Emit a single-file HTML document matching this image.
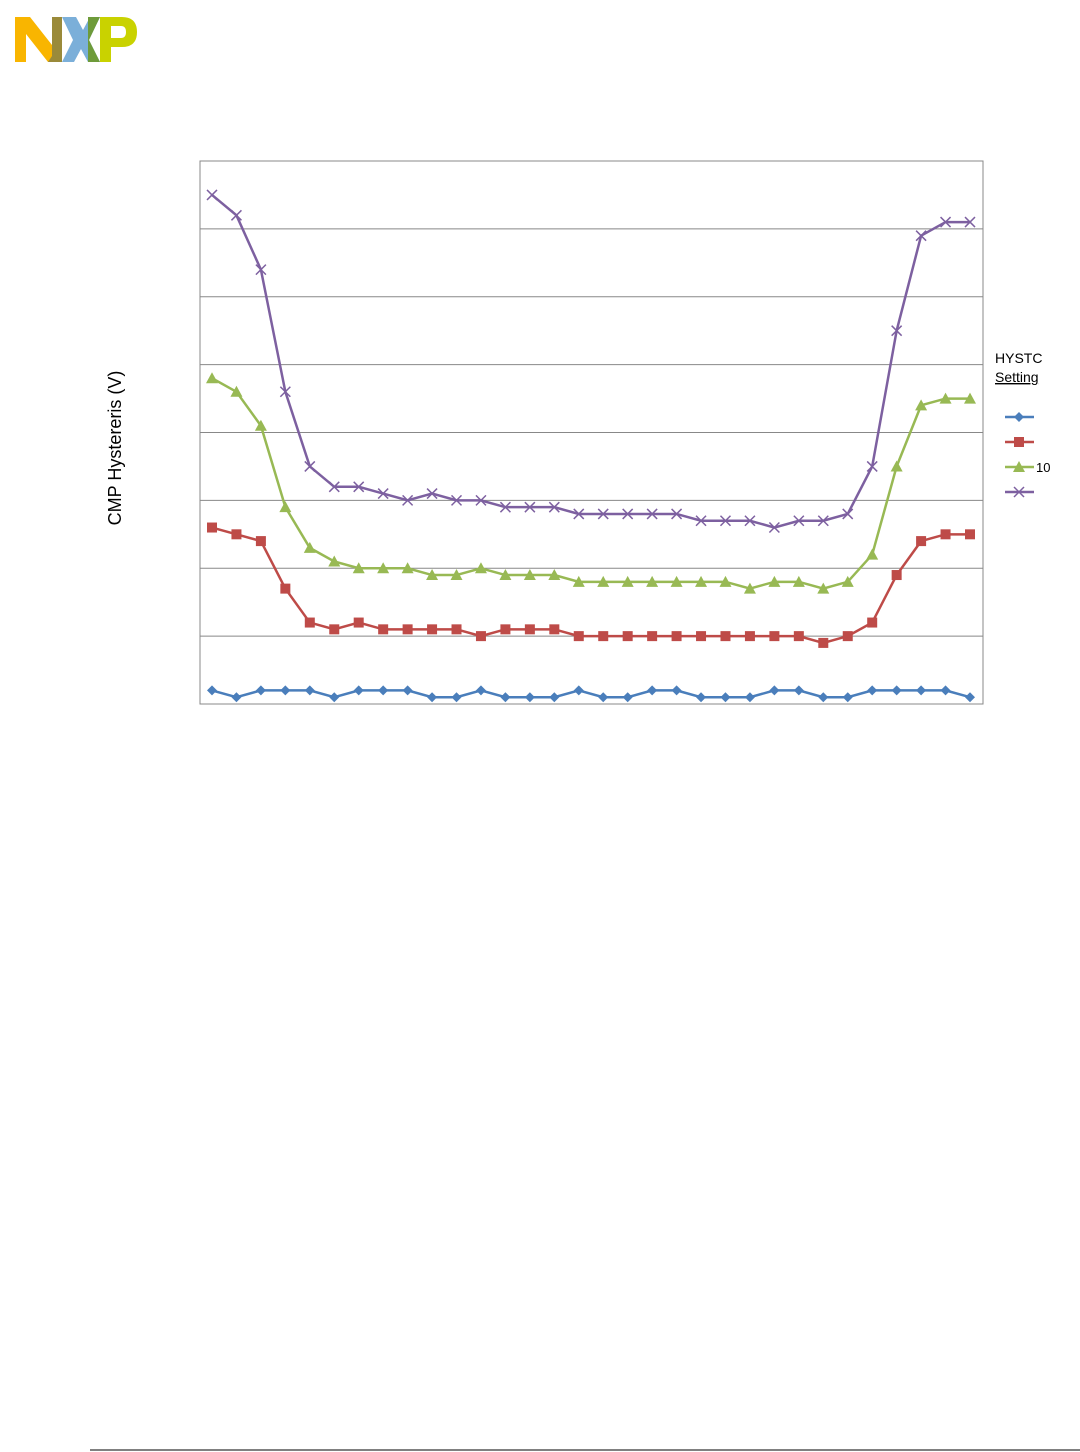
<!DOCTYPE html>
<html><head><meta charset="utf-8"><style>
html,body{margin:0;padding:0;background:#fff;}
body{width:1080px;height:1452px;position:relative;overflow:hidden;font-family:"Liberation Sans",Arial,sans-serif;}
</style></head><body>
<svg width="1080" height="1452" style="position:absolute;left:0;top:0">
  <g>
    <polygon points="15,17 30,17 52,45 52,17 62,17 62,62 48,62 26,34 26,62 15,62" fill="#f9b500"/>
    <polygon points="52,17 62,17 62,62 48,62 52,56" fill="#9a8a3a"/>
    <polygon points="62,17 76,17 83,30 90,17 100,17 89,40 100,62 88,62 81,49 74,62 62,62 73,40" fill="#7bafd9"/>
    <polygon points="88,17 100,17 89,40 100,62 88,62" fill="#6e9b3a"/>
    <path d="M100,17 H122 Q137,17 137,32 Q137,47 122,47 H111 V62 H100 L100,62 Z M111,26 V38 H121 Q126,38 126,32 Q126,26 121,26 Z" fill="#c9d200" fill-rule="evenodd"/>
  </g>
  <g id="grid"></g>
  <rect x="200" y="161" width="783" height="543" fill="none" stroke="#888" stroke-width="1"/>
  <g id="series"></g>
  <text x="121" y="448" font-size="18" text-anchor="middle" transform="rotate(-90 121 448)" fill="#000">CMP Hystereris (V)</text>
  <text x="995" y="363" font-size="14" fill="#000">HYSTC</text>
  <text x="995" y="382" font-size="14" fill="#000" text-decoration="underline">Setting</text>
  <g id="legend"></g>
  <text x="1036" y="472" font-size="13" fill="#000">10</text>
  <line x1="90" y1="1450" x2="1080" y2="1450" stroke="#000" stroke-width="1"/>
</svg>
<script>
const categories = Array.from({length:32},(_,i)=>i);
const seriesBlue = [2,1,2,2,2,1,2,2,2,1,1,2,1,1,1,2,1,1,2,2,1,1,1,2,2,1,1,2,2,2,2,1];
const seriesRed = [26,25,24,17,12,11,12,11,11,11,11,10,11,11,11,10,10,10,10,10,10,10,10,10,10,9,10,12,19,24,25,25];
const seriesGreen = [48,46,41,29,23,21,20,20,20,19,19,20,19,19,19,18,18,18,18,18,18,18,17,18,18,17,18,22,35,44,45,45];
const seriesPurple = [75,72,64,46,35,32,32,31,30,31,30,30,29,29,29,28,28,28,28,28,27,27,27,26,27,27,28,35,55,69,71,71];
const yTicks = [0,10,20,30,40,50,60,70,80];

const NS="http://www.w3.org/2000/svg";
const X0=212,X1=970,Y0=704,YTOP=161,YMAX=80;
function xs(i){return X0+(X1-X0)*i/(categories.length-1);}
function ys(v){return Y0-(Y0-YTOP)*v/YMAX;}
function mk(tag,attrs,parent){const e=document.createElementNS(NS,tag);for(const k in attrs)e.setAttribute(k,attrs[k]);parent.appendChild(e);return e;}

const grid=document.getElementById('grid');
yTicks.forEach(t=>{
  const l=mk('line',{x1:200,x2:983,y1:ys(t),y2:ys(t),stroke:'#888','stroke-width':1},grid);
  
  
});

function marker(type,x,y,color,parent){
  let e;
  if(type==='diamond') e=mk('polygon',{points:`${x},${y-5} ${x+5},${y} ${x},${y+5} ${x-5},${y}`,fill:color},parent);
  else if(type==='square') e=mk('rect',{x:x-5,y:y-5,width:10,height:10,fill:color},parent);
  else if(type==='triangle') e=mk('polygon',{points:`${x},${y-6} ${x+6},${y+5} ${x-6},${y+5}`,fill:color},parent);
  else { e=mk('path',{d:`M${x-5},${y-5}L${x+5},${y+5}M${x+5},${y-5}L${x-5},${y+5}`,stroke:color,'stroke-width':1.5,fill:'none'},parent); }
  return e;
}

const sg=document.getElementById('series');
const defs=[
  {name:'blue',vals:seriesBlue,color:'#4a7ebb',m:'diamond'},
  {name:'red',vals:seriesRed,color:'#be4b48',m:'square'},
  {name:'green',vals:seriesGreen,color:'#98b954',m:'triangle'},
  {name:'purple',vals:seriesPurple,color:'#7d60a0',m:'x'}
];
defs.forEach(s=>{
  const g=mk('g',{},sg);
  
  
  const pts=s.vals.map((v,i)=>xs(i)+','+ys(v)).join(' ');
  const pl=mk('polyline',{points:pts,fill:'none',stroke:s.color,'stroke-width':2.5},g);
  
  
  s.vals.forEach((v,i)=>{
    const e=marker(s.m,xs(i),ys(v),s.color,g);
    
    
  });
});

const lg=document.getElementById('legend');
defs.forEach((s,k)=>{
  const y=417+k*25;
  const g=mk('g',{},lg);
  
  
  mk('line',{x1:1005,x2:1034,y1:y,y2:y,stroke:s.color,'stroke-width':2.5},g);
  marker(s.m,1019,y,s.color,g);
});
</script>
</body></html>
